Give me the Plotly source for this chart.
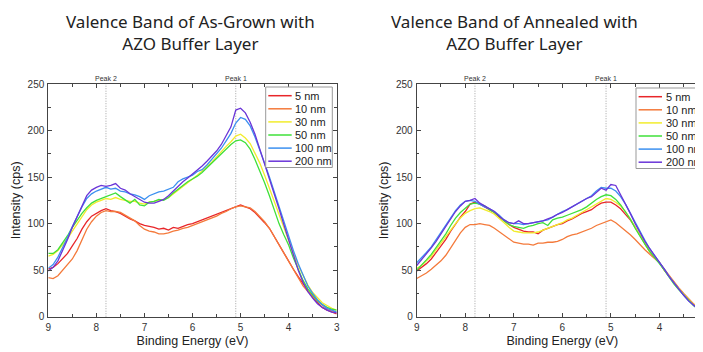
import plotly.graph_objects as go

# Binding energy grid (eV)
energy = [9.0, 8.9, 8.8, 8.7, 8.6, 8.5, 8.4, 8.3, 8.2, 8.1,
          8.0, 7.9, 7.8, 7.7, 7.6, 7.5, 7.4, 7.3, 7.2, 7.1,
          7.0, 6.9, 6.8, 6.7, 6.6, 6.5, 6.4, 6.3, 6.2, 6.1,
          6.0, 5.9, 5.8, 5.7, 5.6, 5.5, 5.4, 5.3, 5.2, 5.1,
          5.0, 4.9, 4.8, 4.7, 4.6, 4.5, 4.4, 4.3, 4.2, 4.1,
          4.0, 3.9, 3.8, 3.7, 3.6, 3.5, 3.4, 3.3, 3.2, 3.1, 3.0]

series_names = ["5 nm", "10 nm", "30 nm", "50 nm", "100 nm", "200 nm"]
series_colors = ["#e8262a", "#f47a3b", "#f2ec2c", "#3fe03a", "#3c90f0", "#6a35d8"]

# As-grown intensities (cps)
asgrown_5nm = [51, 53, 57, 62, 68, 76, 84, 94, 102, 108, 111, 114, 116, 114, 113, 111, 108, 105, 103, 100,
               98, 97, 96, 94, 95, 93, 96, 95, 97, 99, 100, 102, 104, 106, 108, 110, 112, 114, 116, 118,
               120, 118, 116, 112, 107, 101, 95, 86, 77, 68, 60, 51, 43, 35, 28, 21, 15, 10, 7, 5, 3]
asgrown_10nm = [42, 41, 44, 50, 56, 62, 71, 82, 94, 102, 108, 112, 114, 113, 113, 112, 109, 106, 103, 98,
                94, 92, 91, 89, 89, 90, 92, 93, 95, 96, 98, 100, 102, 104, 106, 108, 111, 113, 116, 118,
                119, 118, 117, 113, 108, 102, 95, 86, 78, 69, 60, 51, 42, 33, 27, 22, 17, 12, 8, 6, 5]
asgrown_30nm = [65, 67, 71, 77, 84, 92, 100, 108, 115, 120, 123, 125, 127, 126, 128, 126, 125, 124, 124, 122,
                121, 123, 124, 125, 126, 128, 132, 136, 141, 145, 148, 152, 156, 161, 166, 172, 178, 183, 188, 194,
                196, 192, 186, 176, 165, 152, 138, 123, 108, 94, 82, 68, 55, 44, 34, 26, 20, 15, 12, 9, 7]
asgrown_50nm = [68, 68, 72, 79, 87, 96, 104, 111, 117, 122, 125, 127, 129, 131, 133, 129, 125, 122, 126, 120,
                119, 123, 124, 126, 125, 128, 133, 137, 142, 145, 148, 151, 155, 160, 165, 171, 176, 181, 185, 189,
                190, 187, 180, 169, 157, 144, 130, 115, 100, 88, 77, 63, 50, 39, 30, 23, 17, 13, 10, 8, 7]
asgrown_100nm = [52, 56, 64, 74, 85, 97, 108, 118, 127, 132, 135, 137, 139, 137, 138, 135, 134, 132, 131, 129,
                 126, 130, 132, 134, 135, 137, 139, 145, 148, 150, 152, 156, 158, 163, 169, 175, 181, 189, 197, 208,
                 214, 212, 205, 193, 180, 165, 150, 134, 118, 102, 86, 71, 57, 44, 33, 25, 18, 13, 9, 7, 5]
asgrown_200nm = [49, 53, 60, 71, 83, 96, 108, 120, 130, 136, 139, 141, 140, 141, 143, 138, 136, 132, 129, 126,
                 123, 122, 122, 124, 126, 130, 135, 141, 145, 149, 153, 157, 162, 167, 172, 178, 185, 194, 204, 222,
                 224, 219, 209, 196, 180, 165, 150, 133, 116, 99, 82, 65, 50, 37, 27, 20, 14, 10, 7, 5, 4]

# Annealed intensities (cps)
annealed_5nm = [49, 53, 57, 62, 69, 75, 83, 92, 100, 107, 113, 121, 123, 121, 118, 115, 112, 107, 103, 99,
                96, 94, 92, 91, 91, 89, 93, 95, 97, 99, 100, 103, 105, 108, 111, 113, 115, 119, 122, 123,
                123, 120, 116, 110, 104, 96, 87, 79, 70, 64, 58, 50, 43, 36, 30, 24, 18, 13, 9, 5, 3]
annealed_10nm = [41, 44, 47, 51, 55, 60, 66, 74, 82, 90, 96, 99, 99, 100, 99, 98, 95, 91, 87, 83,
                 80, 79, 78, 78, 77, 79, 79, 80, 80, 81, 83, 86, 88, 89, 91, 93, 95, 98, 100, 102,
                 104, 101, 97, 93, 88, 83, 77, 72, 67, 62, 58, 51, 44, 37, 31, 25, 19, 14, 10, 6, 4]
annealed_30nm = [52, 55, 60, 65, 72, 79, 86, 94, 100, 106, 111, 114, 116, 117, 115, 113, 110, 106, 101, 96,
                 92, 91, 90, 90, 90, 91, 93, 95, 97, 99, 101, 104, 106, 109, 112, 115, 118, 121, 124, 127,
                 126, 123, 119, 113, 105, 96, 87, 78, 70, 64, 58, 50, 43, 36, 30, 24, 18, 13, 9, 5, 3]
annealed_50nm = [50, 55, 61, 67, 74, 81, 89, 98, 106, 112, 117, 121, 122, 121, 119, 115, 112, 108, 103, 99,
                 97, 96, 95, 97, 98, 100, 101, 98, 104, 106, 107, 109, 111, 113, 115, 118, 122, 126, 129, 131,
                 130, 126, 120, 113, 105, 95, 86, 78, 70, 64, 57, 50, 42, 35, 29, 23, 17, 12, 8, 5, 3]
annealed_100nm = [58, 63, 69, 75, 83, 91, 99, 106, 114, 120, 124, 125, 124, 121, 118, 116, 113, 109, 104, 101,
                  100, 100, 99, 100, 101, 102, 103, 104, 107, 110, 113, 115, 118, 121, 124, 127, 130, 135, 139, 138,
                  138, 135, 129, 121, 111, 101, 91, 82, 73, 66, 59, 51, 43, 36, 29, 23, 17, 12, 8, 5, 3]
annealed_200nm = [55, 61, 67, 74, 81, 89, 97, 105, 113, 119, 124, 125, 127, 122, 119, 116, 113, 108, 104, 101,
                  100, 103, 100, 100, 101, 102, 103, 105, 107, 110, 112, 115, 118, 121, 124, 127, 129, 133, 138, 136,
                  142, 141, 131, 122, 111, 100, 90, 81, 73, 66, 59, 51, 43, 36, 29, 23, 17, 12, 8, 5, 3]

asgrown = [asgrown_5nm, asgrown_10nm, asgrown_30nm, asgrown_50nm, asgrown_100nm, asgrown_200nm]
annealed = [annealed_5nm, annealed_10nm, annealed_30nm, annealed_50nm, annealed_100nm, annealed_200nm]

peak_positions = [7.8, 5.1]
peak_labels = ["Peak 2", "Peak 1"]
titles = ["Valence Band of As-Grown with<br>AZO Buffer Layer",
          "Valence Band of Annealed with<br>AZO Buffer Layer"]

# ---- layout geometry (figure pixels; the page body adds an 8px offset) ----
W, H = 703, 352
PLOT_TOP, PLOT_BOT = 76.0, 308.7
LEFT_X = (40.3, 328.7)
RIGHT_X = (408.7, 700.0)
TITLE_CX = (183, 507)

def px(x):
    return x / W

def py(y):
    return 1 - y / H

fig = go.Figure()

for i, name in enumerate(series_names):
    fig.add_trace(go.Scatter(x=energy, y=asgrown[i], mode="lines", name=name, showlegend=False,
                             line=dict(color=series_colors[i], width=1.3),
                             xaxis="x", yaxis="y"))
for i, name in enumerate(series_names):
    fig.add_trace(go.Scatter(x=energy, y=annealed[i], mode="lines", name=name, showlegend=False,
                             line=dict(color=series_colors[i], width=1.3),
                             xaxis="x2", yaxis="y2"))

ydom = [py(PLOT_BOT), py(PLOT_TOP)]
tickfont = dict(family="Liberation Sans, Arial, sans-serif", size=10, color="#333")
titlefont = dict(family="Liberation Sans, Arial, sans-serif", size=12.5, color="#222")

def xax(domain, anchor):
    return dict(domain=domain, range=[9, 3], anchor=anchor, showline=True, linecolor="#444",
                linewidth=1, mirror="ticks", ticks="inside", ticklen=4, tickcolor="#444",
                dtick=1, tick0=0, ticklabelstandoff=1,
                minor=dict(ticks="inside", ticklen=2.5, dtick=0.5, tickcolor="#444"),
                showgrid=False, zeroline=False, tickfont=tickfont, automargin=False,
                title=dict(text="Binding Energy (eV)", font=titlefont, standoff=4))

def yax(anchor):
    return dict(domain=ydom, range=[0, 250], anchor=anchor, showline=True, linecolor="#444",
                linewidth=1, mirror="ticks", ticks="inside", ticklen=4, tickcolor="#444",
                dtick=50, ticklabelstandoff=1,
                minor=dict(ticks="inside", ticklen=2.5, dtick=25, tickcolor="#444"),
                showgrid=False, zeroline=False, tickfont=tickfont, automargin=False,
                title=dict(text="Intensity (cps)", font=titlefont, standoff=4))

fig.update_layout(
    width=W, height=H, margin=dict(l=0, r=0, t=0, b=0, autoexpand=False),
    paper_bgcolor="white", plot_bgcolor="white", showlegend=False,
    xaxis=xax([px(LEFT_X[0]), px(LEFT_X[1])], "y"),
    yaxis=yax("x"),
    xaxis2=xax([px(RIGHT_X[0]), px(RIGHT_X[1])], "y2"),
    yaxis2=yax("x2"),
)

# peak markers
for xa, ya in [("x", "y"), ("x2", "y2")]:
    for pos, lab in zip(peak_positions, peak_labels):
        fig.add_shape(type="line", xref=xa, yref=ya + " domain", x0=pos, x1=pos, y0=0, y1=1,
                      line=dict(color="#999", width=0.9, dash="1px,1.5px"), layer="below")
        fig.add_annotation(x=pos, y=1.0, xref=xa, yref=ya + " domain", text=lab,
                           showarrow=False, yanchor="bottom", yshift=0,
                           font=dict(family="Liberation Sans, Arial, sans-serif", size=7, color="#333"))

# legends (one per panel): box left, box top, line start, row step
legend_specs = [(257.7, 79.0), (628.0, 80.0)]
ROW0, ROW_STEP = 8.7, 13.1
legend_font = dict(family="Liberation Sans, Arial, sans-serif", size=11, color="#222")
for bx, by in legend_specs:
    fig.add_shape(type="rect", xref="paper", yref="paper",
                  x0=px(bx), x1=px(min(bx + 66.6, W + 5)), y0=py(by), y1=py(by + 80.5),
                  line=dict(color="#999", width=1), fillcolor="white", layer="above")
    for i, (name, col) in enumerate(zip(series_names, series_colors)):
        yy = by + ROW0 + i * ROW_STEP
        fig.add_shape(type="line", xref="paper", yref="paper",
                      x0=px(bx + 2.6), x1=px(bx + 26), y0=py(yy), y1=py(yy),
                      line=dict(color=col, width=1.5), layer="above")
        fig.add_annotation(x=px(bx + 27.5), y=py(yy), xref="paper", yref="paper", text=name,
                           showarrow=False, xanchor="left", yanchor="middle", font=legend_font)

for cx, t in zip(TITLE_CX, titles):
    fig.add_annotation(x=px(cx), y=1.0, xref="paper", yref="paper", text=t,
                       showarrow=False, xanchor="center", yanchor="top", align="center",
                       font=dict(family="Noto Sans, sans-serif", size=17, color="#222"))

fig.write_html("out.html")
